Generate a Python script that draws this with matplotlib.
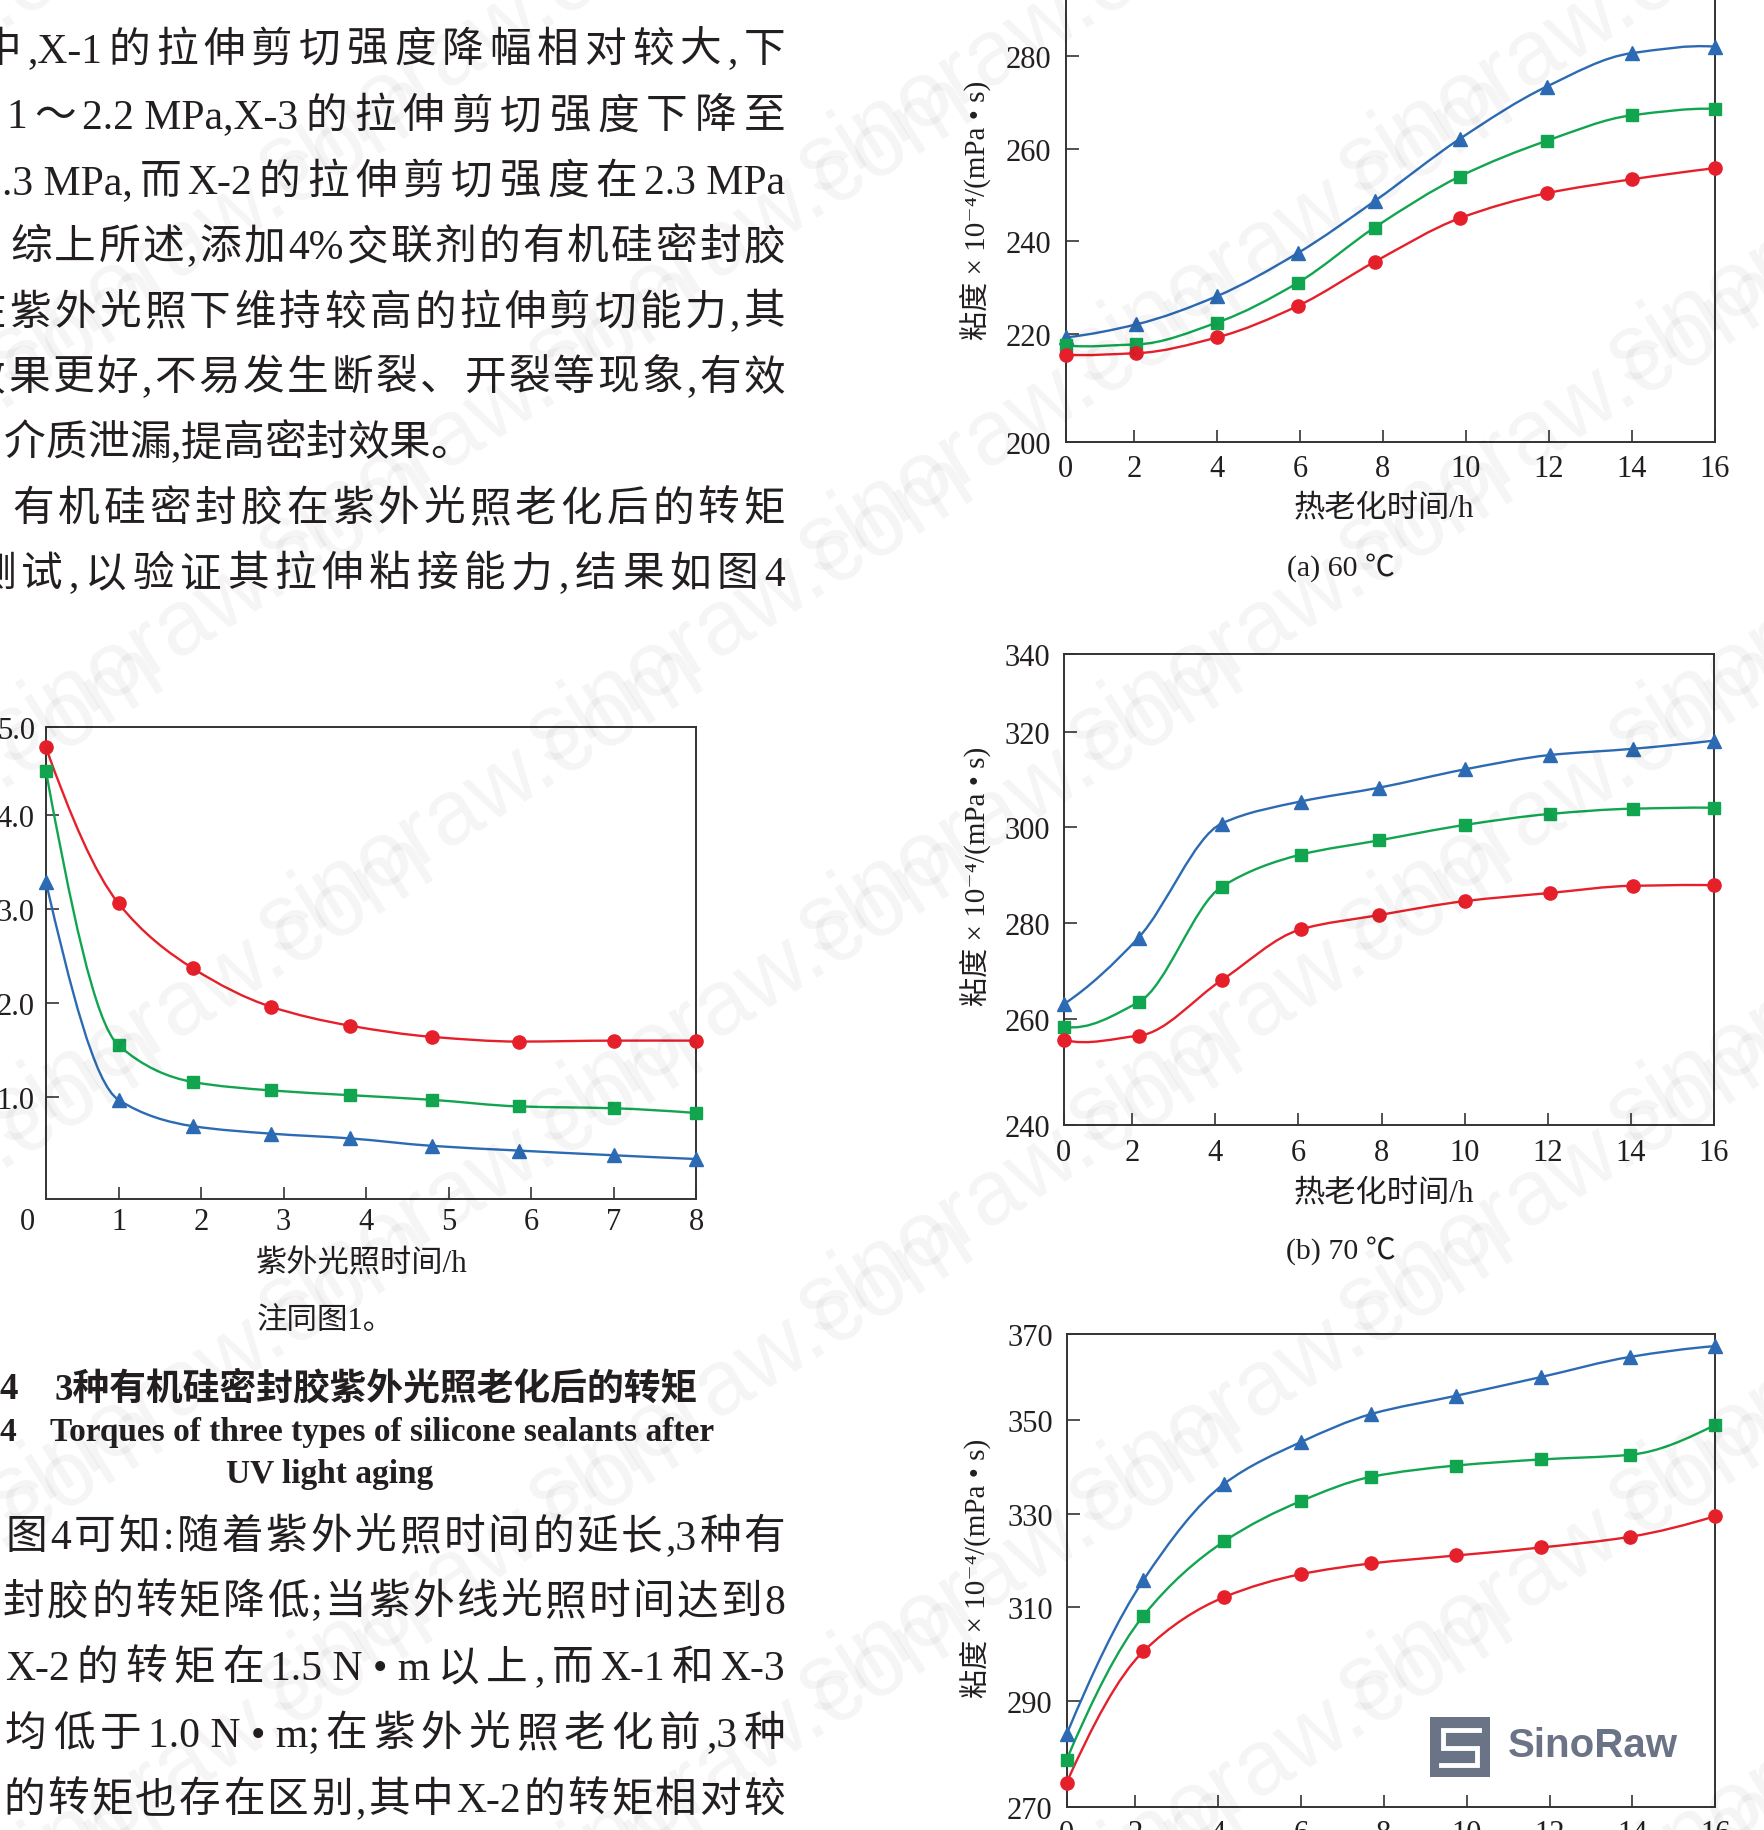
import re
import numpy as np
import matplotlib
matplotlib.use('Agg')
import matplotlib.pyplot as plt
import matplotlib.transforms as mtransforms
from matplotlib.path import Path
from matplotlib.patches import PathPatch, Rectangle

plt.rcParams['font.family'] = ['Liberation Serif', 'Noto Sans CJK SC', 'DejaVu Serif']
plt.rcParams['axes.unicode_minus'] = False

W, H = 1765, 1831
RED, GREEN, BLUE = '#e5202b', '#12a550', '#2c6bb3'
INK = '#231f20'

# ---- data ----
# heat aging time (h), one array per panel
t60 = [0.35, 2.05, 4.0, 5.95, 7.8, 9.85, 11.95, 14.0, 16.0]
t70 = [0.35, 2.15, 4.15, 6.05, 7.95, 10.0, 12.05, 14.05, 16.0]
t80 = [0.35, 2.2, 4.15, 6.0, 7.7, 9.75, 11.8, 13.95, 16.0]

# viscosity x 1e-4 (mPa s)
blue60 = [219.3, 222.1, 228.2, 237.5, 248.7, 262.1, 273.4, 280.6, 282.0]
green60 = [217.6, 217.8, 222.5, 231.1, 243.0, 254.0, 261.7, 267.2, 268.6]
red60 = [215.6, 215.9, 219.3, 226.1, 235.6, 245.0, 250.4, 253.4, 255.8]

blue70 = [263.1, 277.0, 300.8, 305.4, 308.3, 312.1, 315.1, 316.4, 318.1]
green70 = [258.4, 263.5, 287.6, 294.3, 297.3, 300.5, 302.8, 303.9, 304.1]
red70 = [255.6, 256.5, 268.1, 278.7, 281.7, 284.6, 286.3, 287.8, 287.9]

blue80 = [282.9, 315.8, 336.4, 345.3, 351.3, 355.2, 359.2, 363.5, 365.8]
green80 = [277.5, 308.2, 324.1, 332.7, 337.9, 340.3, 341.6, 342.6, 349.0]
red80 = [272.6, 300.6, 312.2, 317.1, 319.4, 321.1, 322.8, 325.1, 329.5]

# UV aging: time (h) and torque (N m)
uv_time = [0.12, 1.0, 1.9, 2.85, 3.8, 4.8, 5.85, 7.0, 8.0]
red_uv = [4.72, 3.06, 2.37, 1.96, 1.76, 1.64, 1.59, 1.60, 1.60]
green_uv = [4.47, 1.55, 1.16, 1.07, 1.02, 0.97, 0.90, 0.88, 0.83]
blue_uv = [3.29, 0.97, 0.69, 0.61, 0.56, 0.48, 0.43, 0.38, 0.34]

heat_xticks = [2, 4, 6, 8, 10, 12, 14, 16]
uv_xticks = [1, 2, 3, 4, 5, 6, 7, 8]

text_top = [
    '中,X-1的拉伸剪切强度降幅相对较大,下',
    '1～2.2 MPa,X-3的拉伸剪切强度下降至',
    '.3 MPa,而X-2的拉伸剪切强度在2.3 MPa',
    '综上所述,添加4%交联剂的有机硅密封胶',
    '在紫外光照下维持较高的拉伸剪切能力,其',
    '效果更好,不易发生断裂、开裂等现象,有效',
    '介质泄漏,提高密封效果。',
    '有机硅密封胶在紫外光照老化后的转矩',
    '测试,以验证其拉伸粘接能力,结果如图4',
]
text_bottom = [
    '图4可知:随着紫外光照时间的延长,3种有',
    '封胶的转矩降低;当紫外线光照时间达到8',
    'X-2的转矩在1.5 N • m以上,而X-1和X-3',
    '均低于1.0 N • m;在紫外光照老化前,3种',
    '的转矩也存在区别,其中X-2的转矩相对较',
]

fig = plt.figure(figsize=(W / 100, H / 100), dpi=100)
fig.patch.set_facecolor('white')
# pixel coordinates, origin top-left
pix = mtransforms.Affine2D().scale(1.0 / W, -1.0 / H).translate(0, 1) + fig.transFigure


def add_ax(l, t, r, b):
    return fig.add_axes([l / W, 1 - b / H, (r - l) / W, (b - t) / H])


def slopes(x, y):
    x = np.asarray(x, float)
    y = np.asarray(y, float)
    h = np.diff(x)
    d = np.diff(y) / h
    m = np.zeros_like(y)
    for k in range(1, len(x) - 1):
        if d[k - 1] * d[k] > 0:
            w1 = 2 * h[k] + h[k - 1]
            w2 = h[k] + 2 * h[k - 1]
            m[k] = (w1 + w2) / (w1 / d[k - 1] + w2 / d[k])
    m[0] = ((2 * h[0] + h[1]) * d[0] - h[0] * d[1]) / (h[0] + h[1])
    m[-1] = ((2 * h[-1] + h[-2]) * d[-1] - h[-1] * d[-2]) / (h[-1] + h[-2])
    return m


def smooth_line(ax, x, y, color):
    # cubic hermite segments drawn as bezier curves
    m = slopes(x, y)
    verts = [(x[0], y[0])]
    codes = [Path.MOVETO]
    for k in range(len(x) - 1):
        hk = x[k + 1] - x[k]
        verts += [(x[k] + hk / 3, y[k] + m[k] * hk / 3),
                  (x[k + 1] - hk / 3, y[k + 1] - m[k + 1] * hk / 3),
                  (x[k + 1], y[k + 1])]
        codes += [Path.CURVE4] * 3
    ax.add_patch(PathPatch(Path(verts, codes), fill=False, edgecolor=color,
                           lw=1.7, zorder=3))


def series(ax, x, y, color, marker, ms):
    smooth_line(ax, x, y, color)
    ax.plot(x, y, ls='none', marker=marker, ms=ms, color=color, mec=color,
            clip_on=False, zorder=4)


def style(ax, xpad, ypad):
    for s in ax.spines.values():
        s.set_color('#333333')
        s.set_linewidth(1.4)
    ax.tick_params(direction='in', length=9, width=1.2, color='#333333',
                   labelsize=22, labelcolor=INK, top=False, right=False)
    ax.tick_params(axis='x', pad=xpad)
    ax.tick_params(axis='y', pad=ypad)


def ftext(x, y, s, **kw):
    kw.setdefault('color', INK)
    return fig.text(x, y, s, transform=pix, **kw)


ylab = '粘度 × 10⁻⁴/(mPa • s)'


def heat_panel(box, t, b, g, r, ylim, yticks, ylabels, ylab_y):
    ax = add_ax(*box)
    series(ax, t, b, BLUE, '^', 9.5)
    series(ax, t, g, GREEN, 's', 8.5)
    series(ax, t, r, RED, 'o', 9.5)
    ax.set_xlim(0.35, 16)
    ax.set_ylim(*ylim)
    ax.set_xticks([0.35] + heat_xticks, ['0'] + [str(v) for v in heat_xticks])
    ax.set_yticks(yticks, ylabels)
    style(ax, 9, 10)
    ftext(975, ylab_y, ylab, rotation=90, ha='center', va='center', fontsize=21)
    return ax


# (a) 60 C
heat_panel((1065.5, -40, 1714.8, 442.8), t60, blue60, green60, red60,
           (196.8, 300.9), [196.8, 220, 240, 260, 280], ['200', '220', '240', '260', '280'], 210)
ftext(1384, 510, '热老化时间/h', ha='center', va='center', fontsize=22.5)
ftext(1341, 568, '(a) 60 ℃', ha='center', va='center', fontsize=21.5)

# (b) 70 C
heat_panel((1063.9, 654.5, 1713.7, 1126.3), t70, blue70, green70, red70,
           (237.8, 336.3), [237.8, 260, 280, 300, 320, 336.3],
           ['240', '260', '280', '300', '320', '340'], 876)
ftext(1384, 1195, '热老化时间/h', ha='center', va='center', fontsize=22.5)
ftext(1341, 1251, '(b) 70 ℃', ha='center', va='center', fontsize=21.5)

# (c) 80 C (bottom cut)
heat_panel((1066.6, 1334.9, 1715.4, 1808), t80, blue80, green80, red80,
           (267.4, 368.4), [267.4, 290, 310, 330, 350, 368.4],
           ['270', '290', '310', '330', '350', '370'], 1568)

# (d) UV aging torque
ax = add_ax(45.9, 727.8, 696.3, 1199.5)
series(ax, uv_time, blue_uv, BLUE, '^', 9.5)
series(ax, uv_time, green_uv, GREEN, 's', 8.5)
series(ax, uv_time, red_uv, RED, 'o', 9.5)
ax.set_xlim(0.12, 8)
ax.set_ylim(-0.08, 4.94)
ax.set_xticks(uv_xticks, [str(v) for v in uv_xticks])
ax.set_yticks([1, 2, 3, 4, 4.94], ['1.0', '2.0', '3.0', '4.0', '5.0'])
style(ax, 6, 8)
ftext(27, 1223, '0', ha='center', va='center', fontsize=22)
ftext(362, 1265, '紫外光照时间/h', ha='center', va='center', fontsize=22.5)
ftext(257, 1322, '注同图1。', ha='left', va='center', fontsize=22)


# ---- body text ----
def line(yc, s, x0, x1=None, size=30, weight='normal'):
    toks = re.findall(r'[!-~](?:[ !-~•]*[!-~])?|.', s)
    em = size * 100 / 72
    yb = yc + 0.36 * em
    objs = [ftext(x0, yb, t, fontsize=size, fontweight=weight, va='baseline', ha='left')
            for t in toks]
    rend = fig.canvas.get_renderer()
    ws = [o.get_window_extent(rend).width for o in objs]
    gap = 0 if x1 is None else (x1 - x0 - sum(ws)) / max(len(ws) - 1, 1)
    x = x0
    for o, w in zip(objs, ws):
        o.set_position((x, yb))
        x += w + gap


top_y = [46.7, 113.3, 178.7, 244.1, 309.5, 375.0, 440.4, 505.8, 571.2]
top_x0 = [-20, 6, 2, 10, -36, -36, 4, 12, -26]
for i, (s, yy, x0) in enumerate(zip(text_top, top_y, top_x0)):
    line(yy, s, x0, None if i == 6 else 785)

bot_y = [1534, 1599, 1665, 1731, 1797]
bot_x0 = [6, 3, 5, 5, 3]
for s, yy, x0 in zip(text_bottom, bot_y, bot_x0):
    line(yy, s, x0, 785)

# caption
ftext(0, 1390, '4', fontsize=26.5, fontweight='bold', va='center', ha='left')
ftext(55, 1390, '3种有机硅密封胶紫外光照老化后的转矩', fontsize=26.5, fontweight='bold',
      va='center', ha='left')
ftext(0, 1433, '4', fontsize=24, fontweight='bold', va='center', ha='left')
ftext(50, 1433, 'Torques of three types of silicone sealants after', fontsize=24,
      fontweight='bold', va='center', ha='left')
ftext(330, 1475, 'UV light aging', fontsize=24, fontweight='bold', va='center', ha='center')

# SinoRaw logo
lx, ly, ls = 1430, 1718, 60
fig.patches.append(Rectangle((lx, ly), ls, ls, transform=pix, facecolor='#6b7386',
                             edgecolor='none', zorder=5))
sx = [0.82, 0.22, 0.22, 0.78, 0.78, 0.18]
sy = [0.22, 0.22, 0.52, 0.52, 0.80, 0.80]
fig.lines.append(plt.Line2D([lx + v * ls for v in sx], [ly + v * ls for v in sy],
                            transform=pix, color='white', lw=3.5, zorder=6,
                            solid_joinstyle='miter'))
ftext(1508, 1746, 'SinoRaw', family='Liberation Sans', fontweight='bold', fontsize=29,
      color='#6b7386', va='center', ha='left', zorder=6)

# faint watermark
for j in range(-2, 11):
    for i in range(-1, 5):
        cx = i * 540 + (j % 2) * 270 - 60
        cy = j * 190 + 40
        ftext(cx, cy, 'sinoraw.com', family='Liberation Sans', fontsize=66,
              rotation=32, color='#000000', alpha=0.045, ha='center', va='center',
              zorder=10)

fig.savefig('out.png', dpi=100)
